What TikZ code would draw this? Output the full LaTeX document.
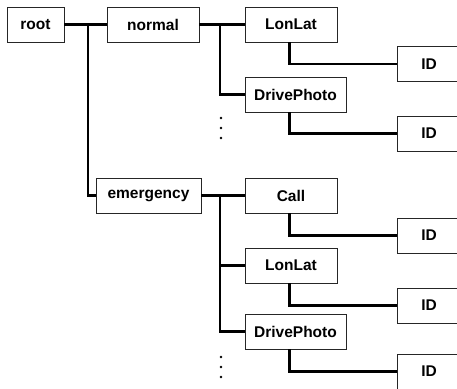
\documentclass[tikz,border=0pt]{standalone}
\usepackage{fontspec}
\setmainfont{Liberation Sans}
\begin{document}
\begin{tikzpicture}[x=1pt,y=-1pt,
  box/.style={draw=black!85, line width=0.9pt, fill=white, minimum height=35pt,
    inner sep=0pt, font=\fontsize{15.5}{18}\selectfont\bfseries},
  leaf/.style={box, minimum width=150pt},
  link/.style={line width=2.6pt},
  dotmark/.style={fill=black}]
\useasboundingbox (0,0) rectangle (457,388);
\clip (0,0) rectangle (457,388);

% level 0 and 1
\node[box, minimum width=57pt]  (root)   at (35.5,24.5)  {root};
\node[box, minimum width=92pt]  (normal) at (153,24.5)   {normal};
\node[box, minimum width=105pt] (emerg)  at (148.5,195.5) {emergency};

% children of "normal"
\node[box, minimum width=92pt]  (ll1) at (291,24.5)   {LonLat};
\node[box, minimum width=101pt] (dp1) at (295.5,94.5) {DrivePhoto};

% children of "emergency"
\node[box, minimum width=92pt]  (call) at (291,195.5)   {Call};
\node[box, minimum width=92pt]  (ll2)  at (291,265.5)   {LonLat};
\node[box, minimum width=101pt] (dp2)  at (295.5,331.5) {DrivePhoto};

% ID leaves (running off the right edge)
\node[leaf] (id1) at (472,64)    {ID\hspace*{86pt}};
\node[leaf] (id2) at (472,133.5) {ID\hspace*{86pt}};
\node[leaf] (id3) at (472,235.5) {ID\hspace*{86pt}};
\node[leaf] (id4) at (472,305.5) {ID\hspace*{86pt}};
\node[leaf] (id5) at (472,371.5) {ID\hspace*{86pt}};

% branch points
\coordinate (t0) at (88,24.5);
\coordinate (t1) at (220,24.5);
\coordinate (t2) at (220,195.5);

% root branches
\draw[link] (root.east) -- (normal.west);
\draw[link] (t0) |- (emerg.west);

% normal branches
\draw[link] (normal.east) -- (ll1.west);
\draw[link] (t1) |- (dp1.west);

% emergency branches
\draw[link] (emerg.east) -- (call.west);
\draw[link] (t2) |- (dp2.west);
\draw[link] (t2 |- ll2.west) -- (ll2.west);

% leaf links
\draw[link] (ll1.south west) ++(45,0) |- (id1.west);
\draw[link] (dp1.south west) ++(45,0) |- (id2.west);
\draw[link] (call.south west) ++(45,0) |- (id3.west);
\draw[link] (ll2.south west) ++(45,0) |- (id4.west);
\draw[link] (dp2.south west) ++(45,0) |- (id5.west);

% continuation dots
\foreach \y in {118,128,138} \fill[dotmark] (221,\y) circle (1.3);
\foreach \y in {357,367,377} \fill[dotmark] (221,\y) circle (1.3);
\end{tikzpicture}
\end{document}
